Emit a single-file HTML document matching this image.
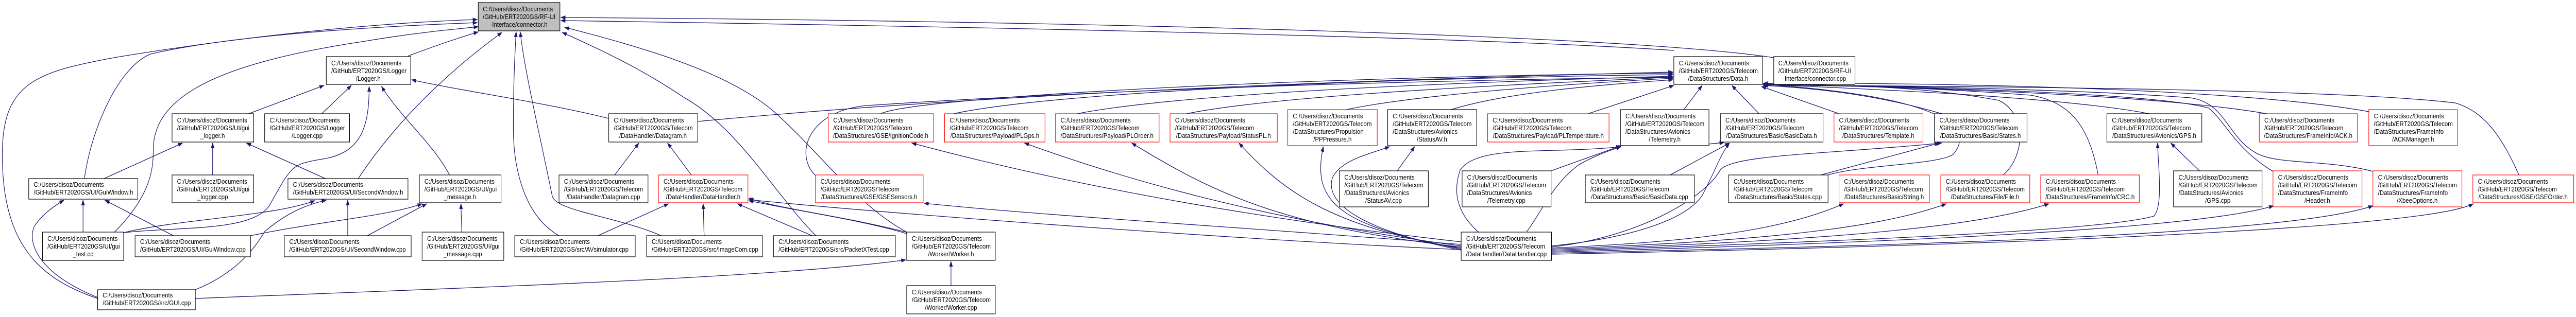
<!DOCTYPE html>
<html><head><meta charset="utf-8"><style>
html,body{margin:0;padding:0;background:#fff;overflow:hidden;width:100vw;height:100vh;}
svg{display:block;width:100vw;height:100vh;}
text{font-family:"Liberation Sans",sans-serif;font-size:13px;fill:#000;}
.e{fill:none;stroke:#191970;stroke-width:1.3;marker-end:url(#a);}
.n{fill:#fff;stroke:#000;stroke-width:1.2;}
.r{fill:#fff;stroke:#ff0000;stroke-width:1.2;}
.c{text-anchor:middle;}
</style></head><body>
<svg viewBox="0 0 5645 616" preserveAspectRatio="none" xmlns="http://www.w3.org/2000/svg">
<defs><marker id="a" markerWidth="11" markerHeight="8" refX="10" refY="4" orient="auto" markerUnits="userSpaceOnUse"><path d="M0,0 L11,4 L0,8 z" fill="#191970"/></marker></defs>
<rect width="5645" height="616" fill="#fff"/>
<g>
<path class="e" d="M894,109 C950,90 1000,75 1048,62"/>
<path class="e" d="M214,580 C80,540 5,470 5,300 C5,160 80,140 250,112 C500,75 800,45 1046,38"/>
<path class="e" d="M185,347 C200,250 260,130 330,105 C500,70 800,52 1046,44"/>
<path class="e" d="M251,451 C330,380 336,330 336,290 C336,180 500,120 800,80 C900,65 980,58 1048,52"/>
<path class="e" d="M271,452 C400,440 550,450 590,400 C640,320 640,320 700,310 C790,300 809,250 809,168"/>
<path class="e" d="M182,451 L182,389"/>
<path class="e" d="M271,452 C400,425 600,420 690,390"/>
<path class="e" d="M228,347 L400,278"/>
<path class="e" d="M466,340 L466,278"/>
<path class="e" d="M713,347 L540,278"/>
<path class="e" d="M705,221 L770,166"/>
<path class="e" d="M545,221 L710,166"/>
<path class="e" d="M380,458 L230,389"/>
<path class="e" d="M549,458 C700,430 850,420 925,396"/>
<path class="e" d="M762,458 L762,389"/>
<path class="e" d="M805,458 L935,396"/>
<path class="e" d="M214,578 C80,530 60,470 75,440 C90,420 110,405 140,389"/>
<path class="e" d="M428,563 C520,530 560,480 580,450 C620,420 660,400 715,389"/>
<path class="e" d="M428,580 C1000,560 1700,540 1985,505"/>
<path class="e" d="M785,347 C850,260 950,160 1100,63"/>
<path class="e" d="M985,340 C950,280 880,230 836,168"/>
<path class="e" d="M1012,451 L1010,396"/>
<path class="e" d="M1333,230 C1200,200 1000,175 902,155"/>
<path class="e" d="M1529,236 C2200,180 3000,155 3666,140"/>
<path class="e" d="M1347,340 L1400,278"/>
<path class="e" d="M1515,340 L1463,278"/>
<path class="e" d="M1310,458 L1465,396"/>
<path class="e" d="M1543,458 L1541,396"/>
<path class="e" d="M1780,458 L1616,396"/>
<path class="e" d="M1987,454 C1900,430 1750,410 1641,390"/>
<path class="e" d="M1990,452 C1850,420 1700,405 1641,385"/>
<path class="e" d="M1225,458 C1150,420 1125,330 1125,250 C1125,160 1128,110 1131,62"/>
<path class="e" d="M1449,458 C1350,420 1215,410 1210,380 C1180,250 1150,140 1140,62"/>
<path class="e" d="M1788,458 C1700,380 1620,250 1500,190 C1400,130 1300,90 1232,63"/>
<path class="e" d="M1987,451 C1880,400 1800,300 1700,220 C1600,140 1400,90 1237,53"/>
<path class="e" d="M2084,555 L2084,508"/>
<path class="e" d="M3202,485 C2800,470 2000,420 1641,388"/>
<path class="e" d="M3887,112 C3500,60 2000,38 1229,34"/>
<path class="e" d="M3668,98 C3200,70 2000,50 1229,40"/>
<path class="e" d="M1930,221 C2000,190 2800,150 3666,142"/>
<path class="e" d="M2090,221 C2300,180 3000,152 3666,145"/>
<path class="e" d="M2360,221 C2600,180 3200,160 3666,148"/>
<path class="e" d="M2600,221 C2800,185 3300,165 3666,150"/>
<path class="e" d="M2950,213 C3100,185 3400,165 3666,152"/>
<path class="e" d="M3180,213 C3300,180 3500,165 3666,155"/>
<path class="e" d="M3480,221 L3668,166"/>
<path class="e" d="M3690,213 L3730,166"/>
<path class="e" d="M3855,221 L3795,166"/>
<path class="e" d="M4030,221 L3860,168"/>
<path class="e" d="M4255,221 C4100,180 3950,170 3864,166"/>
<path class="e" d="M4710,221 C4500,185 4000,170 3864,164"/>
<path class="e" d="M4968,221 C4700,180 4100,168 3864,163"/>
<path class="e" d="M5191,217 C4900,170 4200,160 3864,162"/>
<path class="e" d="M1787,341 C1740,300 1770,215 1900,205 C2500,170 3200,155 3666,150"/>
<path class="e" d="M4006,340 C4080,320 4250,320 4280,300 C4320,260 4300,190 3864,164"/>
<path class="e" d="M4390,340 C4440,300 4440,220 4380,195 C4200,165 4000,165 3864,164"/>
<path class="e" d="M4598,340 C4580,260 4550,200 4450,185 C4200,168 4000,166 3864,165"/>
<path class="e" d="M4981,333 C4900,290 4880,240 4840,210 C4700,175 4000,166 3864,164"/>
<path class="e" d="M5200,333 C5100,310 5000,320 4950,300 C4880,270 4880,200 4800,190 C4500,170 4000,166 3864,164"/>
<path class="e" d="M5520,340 C5480,260 5440,215 5380,200 C5100,170 4200,168 3864,165"/>
<path class="e" d="M3062,332 L3100,285"/>
<path class="e" d="M3399,332 L3553,283"/>
<path class="e" d="M3660,340 L3790,278"/>
<path class="e" d="M3745,280 C3760,278 3770,278 3778,277"/>
<path class="e" d="M3990,340 L4250,278"/>
<path class="e" d="M4820,332 L4757,278"/>
<path class="e" d="M3202,470 C2700,420 2300,350 1998,278"/>
<path class="e" d="M3202,475 C2700,440 2300,420 2025,395"/>
<path class="e" d="M3202,478 C2800,430 2500,360 2245,278"/>
<path class="e" d="M3202,480 C2800,440 2650,370 2480,278"/>
<path class="e" d="M3202,482 C2900,440 2800,360 2715,278"/>
<path class="e" d="M3202,484 C2950,440 2870,400 2900,285"/>
<path class="e" d="M3202,486 C3000,450 2900,400 2920,345 C2940,310 3000,300 3045,285"/>
<path class="e" d="M3240,451 C3200,420 3180,380 3200,330 C3240,280 3400,300 3552,285"/>
<path class="e" d="M3345,451 C3380,410 3400,360 3460,320 C3500,300 3530,292 3552,285"/>
<path class="e" d="M3400,478 C3600,460 3700,420 3730,380 C3760,330 3770,300 3790,278"/>
<path class="e" d="M3400,480 C3600,460 3740,380 3770,330 C3800,300 4000,300 4255,278"/>
<path class="e" d="M3400,482 C3700,470 3900,450 4040,396"/>
<path class="e" d="M3400,484 C3800,470 4100,450 4265,396"/>
<path class="e" d="M3400,486 C3900,470 4300,450 4490,396"/>
<path class="e" d="M3400,488 C4000,470 4600,450 4720,420 C4740,400 4730,330 4728,278"/>
<path class="e" d="M3400,490 C4000,475 4800,450 4982,400"/>
<path class="e" d="M3400,492 C4100,478 5000,460 5200,400"/>
<path class="e" d="M3400,494 C4200,480 5300,450 5420,396"/>
</g>
<g>
<rect x="1048" y="5" width="179" height="55" fill="#bfbfbf" stroke="#000" stroke-width="1.2"/>
<text x="1058" y="22">C:/Users/disoz/Documents</text><text x="1058" y="37">/GitHub/ERT2020GS/RF-UI</text><text class="c" x="1137" y="52">-Interface/connector.h</text>
<rect class="n" x="715" y="110" width="185" height="54"/>
<text x="726" y="127">C:/Users/disoz/Documents</text><text x="726" y="142">/GitHub/ERT2020GS/Logger</text><text class="c" x="807" y="157">/Logger.h</text>
<rect class="n" x="3668" y="110" width="194" height="54"/>
<text x="3679" y="127">C:/Users/disoz/Documents</text><text x="3679" y="142">/GitHub/ERT2020GS/Telecom</text><text class="c" x="3765" y="157">/DataStructures/Data.h</text>
<rect class="n" x="3887" y="110" width="178" height="54"/>
<text x="3897" y="127">C:/Users/disoz/Documents</text><text x="3897" y="142">/GitHub/ERT2020GS/RF-UI</text><text class="c" x="3976" y="157">-Interface/connector.cpp</text>
<rect class="n" x="377" y="221" width="179" height="55"/>
<text x="388" y="238">C:/Users/disoz/Documents</text><text x="388" y="253">/GitHub/ERT2020GS/UI/gui</text><text class="c" x="466" y="268">_logger.h</text>
<rect class="n" x="580" y="221" width="186" height="55"/>
<text x="591" y="238">C:/Users/disoz/Documents</text><text x="591" y="253">/GitHub/ERT2020GS/Logger</text><text class="c" x="673" y="268">/Logger.cpp</text>
<rect class="n" x="1334" y="221" width="195" height="55"/>
<text x="1345" y="238">C:/Users/disoz/Documents</text><text x="1345" y="253">/GitHub/ERT2020GS/Telecom</text><text class="c" x="1431" y="268">/DataHandler/Datagram.h</text>
<rect class="r" x="1815" y="221" width="231" height="55"/>
<text x="1826" y="238">C:/Users/disoz/Documents</text><text x="1826" y="253">/GitHub/ERT2020GS/Telecom</text><text class="c" x="1930" y="268">/DataStructures/GSE/IgnitionCode.h</text>
<rect class="r" x="2070" y="221" width="220" height="55"/>
<text x="2081" y="238">C:/Users/disoz/Documents</text><text x="2081" y="253">/GitHub/ERT2020GS/Telecom</text><text class="c" x="2180" y="268">/DataStructures/Payload/PLGps.h</text>
<rect class="r" x="2313" y="221" width="227" height="55"/>
<text x="2324" y="238">C:/Users/disoz/Documents</text><text x="2324" y="253">/GitHub/ERT2020GS/Telecom</text><text class="c" x="2426" y="268">/DataStructures/Payload/PLOrder.h</text>
<rect class="r" x="2564" y="221" width="235" height="55"/>
<text x="2575" y="238">C:/Users/disoz/Documents</text><text x="2575" y="253">/GitHub/ERT2020GS/Telecom</text><text class="c" x="2681" y="268">/DataStructures/Payload/StatusPL.h</text>
<rect class="r" x="2822" y="213" width="196" height="70"/>
<text x="2833" y="230">C:/Users/disoz/Documents</text><text x="2833" y="245">/GitHub/ERT2020GS/Telecom</text><text x="2833" y="260">/DataStructures/Propulsion</text><text class="c" x="2920" y="275">/PPPressure.h</text>
<rect class="n" x="3041" y="213" width="195" height="70"/>
<text x="3052" y="230">C:/Users/disoz/Documents</text><text x="3052" y="245">/GitHub/ERT2020GS/Telecom</text><text x="3052" y="260">/DataStructures/Avionics</text><text class="c" x="3138" y="275">/StatusAV.h</text>
<rect class="r" x="3260" y="221" width="266" height="55"/>
<text x="3271" y="238">C:/Users/disoz/Documents</text><text x="3271" y="253">/GitHub/ERT2020GS/Telecom</text><text class="c" x="3393" y="268">/DataStructures/Payload/PLTemperature.h</text>
<rect class="n" x="3551" y="213" width="194" height="70"/>
<text x="3562" y="230">C:/Users/disoz/Documents</text><text x="3562" y="245">/GitHub/ERT2020GS/Telecom</text><text x="3562" y="260">/DataStructures/Avionics</text><text class="c" x="3648" y="275">/Telemetry.h</text>
<rect class="n" x="3770" y="221" width="225" height="55"/>
<text x="3781" y="238">C:/Users/disoz/Documents</text><text x="3781" y="253">/GitHub/ERT2020GS/Telecom</text><text class="c" x="3882" y="268">/DataStructures/Basic/BasicData.h</text>
<rect class="r" x="4019" y="221" width="195" height="55"/>
<text x="4030" y="238">C:/Users/disoz/Documents</text><text x="4030" y="253">/GitHub/ERT2020GS/Telecom</text><text class="c" x="4116" y="268">/DataStructures/Template.h</text>
<rect class="n" x="4239" y="221" width="203" height="55"/>
<text x="4250" y="238">C:/Users/disoz/Documents</text><text x="4250" y="253">/GitHub/ERT2020GS/Telecom</text><text class="c" x="4340" y="268">/DataStructures/Basic/States.h</text>
<rect class="n" x="4617" y="221" width="208" height="55"/>
<text x="4628" y="238">C:/Users/disoz/Documents</text><text x="4628" y="253">/GitHub/ERT2020GS/Telecom</text><text class="c" x="4721" y="268">/DataStructures/Avionics/GPS.h</text>
<rect class="r" x="4951" y="221" width="215" height="55"/>
<text x="4962" y="238">C:/Users/disoz/Documents</text><text x="4962" y="253">/GitHub/ERT2020GS/Telecom</text><text class="c" x="5058" y="268">/DataStructures/FrameInfo/ACK.h</text>
<rect class="r" x="5191" y="213" width="194" height="70"/>
<text x="5202" y="230">C:/Users/disoz/Documents</text><text x="5202" y="245">/GitHub/ERT2020GS/Telecom</text><text x="5202" y="260">/DataStructures/FrameInfo</text><text class="c" x="5288" y="275">/ACKManager.h</text>
<rect class="n" x="63" y="347" width="239" height="40"/>
<text x="74" y="363">C:/Users/disoz/Documents</text><text x="74" y="378">/GitHub/ERT2020GS/UI/GuiWindow.h</text>
<rect class="n" x="377" y="340" width="179" height="54"/>
<text x="388" y="357">C:/Users/disoz/Documents</text><text x="388" y="372">/GitHub/ERT2020GS/UI/gui</text><text class="c" x="466" y="387">_logger.cpp</text>
<rect class="n" x="631" y="347" width="263" height="40"/>
<text x="642" y="363">C:/Users/disoz/Documents</text><text x="642" y="378">/GitHub/ERT2020GS/UI/SecondWindow.h</text>
<rect class="n" x="919" y="340" width="179" height="54"/>
<text x="930" y="357">C:/Users/disoz/Documents</text><text x="930" y="372">/GitHub/ERT2020GS/UI/gui</text><text class="c" x="1008" y="387">_message.h</text>
<rect class="n" x="1225" y="340" width="195" height="54"/>
<text x="1236" y="357">C:/Users/disoz/Documents</text><text x="1236" y="372">/GitHub/ERT2020GS/Telecom</text><text class="c" x="1322" y="387">/DataHandler/Datagram.cpp</text>
<rect class="r" x="1443" y="340" width="196" height="54"/>
<text x="1454" y="357">C:/Users/disoz/Documents</text><text x="1454" y="372">/GitHub/ERT2020GS/Telecom</text><text class="c" x="1541" y="387">/DataHandler/DataHandler.h</text>
<rect class="r" x="1787" y="340" width="236" height="54"/>
<text x="1798" y="357">C:/Users/disoz/Documents</text><text x="1798" y="372">/GitHub/ERT2020GS/Telecom</text><text class="c" x="1905" y="387">/DataStructures/GSE/GSESensors.h</text>
<rect class="n" x="2935" y="332" width="195" height="70"/>
<text x="2946" y="349">C:/Users/disoz/Documents</text><text x="2946" y="364">/GitHub/ERT2020GS/Telecom</text><text x="2946" y="379">/DataStructures/Avionics</text><text class="c" x="3032" y="394">/StatusAV.cpp</text>
<rect class="n" x="3204" y="332" width="195" height="70"/>
<text x="3215" y="349">C:/Users/disoz/Documents</text><text x="3215" y="364">/GitHub/ERT2020GS/Telecom</text><text x="3215" y="379">/DataStructures/Avionics</text><text class="c" x="3301" y="394">/Telemetry.cpp</text>
<rect class="n" x="3474" y="340" width="239" height="54"/>
<text x="3485" y="357">C:/Users/disoz/Documents</text><text x="3485" y="372">/GitHub/ERT2020GS/Telecom</text><text class="c" x="3593" y="387">/DataStructures/Basic/BasicData.cpp</text>
<rect class="n" x="3788" y="340" width="218" height="54"/>
<text x="3799" y="357">C:/Users/disoz/Documents</text><text x="3799" y="372">/GitHub/ERT2020GS/Telecom</text><text class="c" x="3897" y="387">/DataStructures/Basic/States.cpp</text>
<rect class="r" x="4030" y="340" width="198" height="54"/>
<text x="4041" y="357">C:/Users/disoz/Documents</text><text x="4041" y="372">/GitHub/ERT2020GS/Telecom</text><text class="c" x="4129" y="387">/DataStructures/Basic/String.h</text>
<rect class="r" x="4253" y="340" width="195" height="54"/>
<text x="4264" y="357">C:/Users/disoz/Documents</text><text x="4264" y="372">/GitHub/ERT2020GS/Telecom</text><text class="c" x="4350" y="387">/DataStructures/File/File.h</text>
<rect class="r" x="4472" y="340" width="216" height="54"/>
<text x="4483" y="357">C:/Users/disoz/Documents</text><text x="4483" y="372">/GitHub/ERT2020GS/Telecom</text><text class="c" x="4580" y="387">/DataStructures/FrameInfo/CRC.h</text>
<rect class="n" x="4763" y="332" width="194" height="70"/>
<text x="4774" y="349">C:/Users/disoz/Documents</text><text x="4774" y="364">/GitHub/ERT2020GS/Telecom</text><text x="4774" y="379">/DataStructures/Avionics</text><text class="c" x="4860" y="394">/GPS.cpp</text>
<rect class="r" x="4981" y="332" width="195" height="70"/>
<text x="4992" y="349">C:/Users/disoz/Documents</text><text x="4992" y="364">/GitHub/ERT2020GS/Telecom</text><text x="4992" y="379">/DataStructures/FrameInfo</text><text class="c" x="5078" y="394">/Header.h</text>
<rect class="r" x="5200" y="332" width="195" height="70"/>
<text x="5211" y="349">C:/Users/disoz/Documents</text><text x="5211" y="364">/GitHub/ERT2020GS/Telecom</text><text x="5211" y="379">/DataStructures/FrameInfo</text><text class="c" x="5297" y="394">/XbeeOptions.h</text>
<rect class="r" x="5419" y="340" width="221" height="54"/>
<text x="5430" y="357">C:/Users/disoz/Documents</text><text x="5430" y="372">/GitHub/ERT2020GS/Telecom</text><text class="c" x="5529" y="387">/DataStructures/GSE/GSEOrder.h</text>
<rect class="n" x="93" y="451" width="178" height="55"/>
<text x="104" y="468">C:/Users/disoz/Documents</text><text x="104" y="483">/GitHub/ERT2020GS/UI/gui</text><text class="c" x="182" y="498">_test.cc</text>
<rect class="n" x="296" y="458" width="253" height="41"/>
<text x="307" y="474">C:/Users/disoz/Documents</text><text x="307" y="489">/GitHub/ERT2020GS/UI/GuiWindow.cpp</text>
<rect class="n" x="623" y="458" width="278" height="41"/>
<text x="634" y="474">C:/Users/disoz/Documents</text><text x="634" y="489">/GitHub/ERT2020GS/UI/SecondWindow.cpp</text>
<rect class="n" x="925" y="451" width="179" height="55"/>
<text x="936" y="468">C:/Users/disoz/Documents</text><text x="936" y="483">/GitHub/ERT2020GS/UI/gui</text><text class="c" x="1014" y="498">_message.cpp</text>
<rect class="n" x="1128" y="458" width="264" height="41"/>
<text x="1139" y="474">C:/Users/disoz/Documents</text><text x="1139" y="489">/GitHub/ERT2020GS/src/AVsimulator.cpp</text>
<rect class="n" x="1417" y="458" width="254" height="41"/>
<text x="1428" y="474">C:/Users/disoz/Documents</text><text x="1428" y="489">/GitHub/ERT2020GS/src/ImageCom.cpp</text>
<rect class="n" x="1695" y="458" width="267" height="41"/>
<text x="1706" y="474">C:/Users/disoz/Documents</text><text x="1706" y="489">/GitHub/ERT2020GS/src/PacketXTest.cpp</text>
<rect class="n" x="1987" y="451" width="194" height="55"/>
<text x="1998" y="468">C:/Users/disoz/Documents</text><text x="1998" y="483">/GitHub/ERT2020GS/Telecom</text><text class="c" x="2084" y="498">/Worker/Worker.h</text>
<rect class="n" x="3202" y="451" width="198" height="55"/>
<text x="3213" y="468">C:/Users/disoz/Documents</text><text x="3213" y="483">/GitHub/ERT2020GS/Telecom</text><text class="c" x="3301" y="498">/DataHandler/DataHandler.cpp</text>
<rect class="n" x="214" y="563" width="214" height="39"/>
<text x="225" y="578">C:/Users/disoz/Documents</text><text x="225" y="593">/GitHub/ERT2020GS/src/GUI.cpp</text>
<rect class="n" x="1987" y="555" width="194" height="55"/>
<text x="1998" y="572">C:/Users/disoz/Documents</text><text x="1998" y="587">/GitHub/ERT2020GS/Telecom</text><text class="c" x="2084" y="602">/Worker/Worker.cpp</text>
</g>
</svg>
</body></html>
